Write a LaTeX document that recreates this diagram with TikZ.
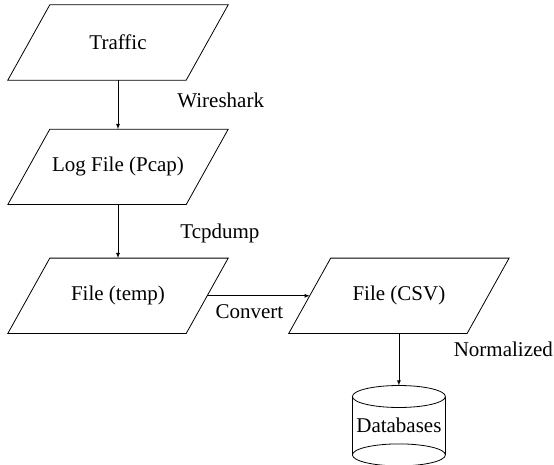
\documentclass[tikz,border=0pt]{standalone}
\usepackage{fontspec}
\setmainfont{Liberation Serif}
\usetikzlibrary{arrows,shapes,positioning}

\begin{document}
\begin{tikzpicture}[x=1pt, y=1pt, >=latex]
% STYLES
\tikzset{%
    data/.style={%
    rectangle,
    inner sep=0pt,
    minimum width=178pt,
    minimum height=75pt,
    font=\fontsize{21}{24}\selectfont}
    }
\tikzset{%
    store/.style={%
    rectangle,
    inner sep=0pt,
    minimum width=93pt,
    minimum height=80pt,
    font=\fontsize{21}{24}\selectfont}
    }
\tikzset{%
    step label/.style={%
    font=\fontsize{21}{24}\selectfont,
    inner sep=0pt}
    }
\useasboundingbox (0,0) rectangle (554,-465);

% Draw data blocks
\node [data] at (118,-42.5) (Traffic) {Traffic};
\node [data, below=49pt of Traffic] (LogFile) {Log File (Pcap)};
\node [data, below=53.5pt of LogFile] (TempFile) {File (temp)};
\node [data, right=102.5pt of TempFile] (CsvFile) {File (CSV)};
\node [store, below=52pt of CsvFile] (Databases) {Databases};

% slanted outlines of the data blocks
\foreach \n in {Traffic,LogFile,TempFile,CsvFile}
  \draw[thick] ([xshift=-21pt]\n.south west) -- ([xshift=21pt]\n.north west)
            -- ([xshift=21pt]\n.north east) -- ([xshift=-21pt]\n.south east) -- cycle;

% Draw the database drum
\draw[thick] ([yshift=-11pt]Databases.north) ellipse [x radius=46.5pt, y radius=11pt];
\draw[thick] ([yshift=11pt]Databases.south) ellipse [x radius=46.5pt, y radius=11pt];
\draw[thick] ([yshift=-11pt]Databases.north west) -- ([yshift=11pt]Databases.south west)
             ([yshift=-11pt]Databases.north east) -- ([yshift=11pt]Databases.south east);

% Draw the links between blocks
\path[->,thick]
(Traffic) edge node [step label, right=59pt, yshift=4.5pt] (Wireshark) {Wireshark} (LogFile)
(LogFile) edge node [step label, right=62pt, yshift=-2pt] (Tcpdump) {Tcpdump} (TempFile)
(TempFile) edge node [step label, below=8pt, xshift=-9pt] (Convert) {Convert} (CsvFile)
(CsvFile) edge node [step label, right=54.5pt, yshift=10.5pt] (Normalized) {Normalized} (Databases);

\end{tikzpicture}
\end{document}
